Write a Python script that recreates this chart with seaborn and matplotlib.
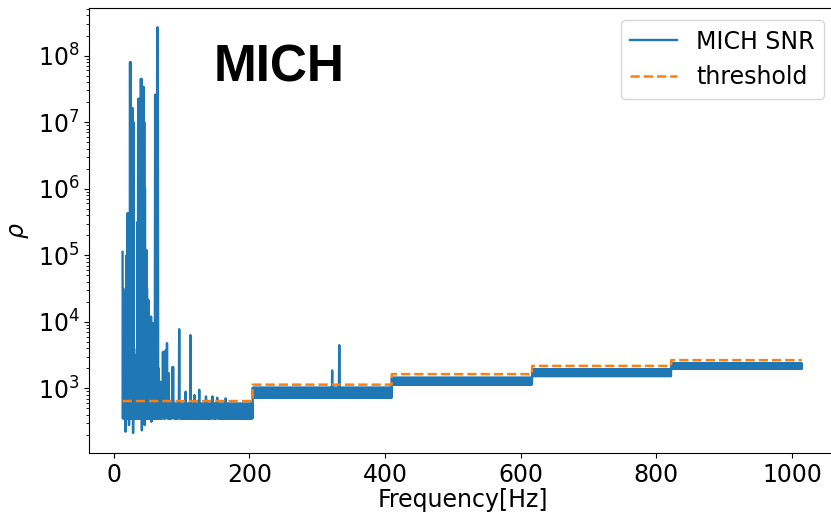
import numpy as np
import pandas as pd
import matplotlib
matplotlib.use("Agg")
import matplotlib.pyplot as plt
import seaborn as sns

# ---------------- data ----------------
# frequency bins (Hz)
freq = np.arange(13.0, 1015.0, 0.5)

# threshold steps / noise band per frequency segment
seg_edges = [13, 205, 410, 617, 822, 1015]
band_low_log = [2.55, 2.86, 3.06, 3.185, 3.30]
band_high_log = [2.77, 3.01, 3.16, 3.29, 3.38]
thr_values = [646, 1140, 1640, 2180, 2660]

# low-frequency upper envelope (log10 rho) at 13..70 Hz
lf_freqs = list(range(13, 71))
lf_peak_log = [5.05, 4.5, 3.8, 3.7, 4.45, 3.9, 5.0, 5.63, 5.6, 5.63,
               5.6, 7.9, 7.9, 7.21, 7.21, 7.21, 7.0, 3.6, 3.45, 3.45,
               3.5, 3.45, 5.5, 7.35, 7.35, 7.35, 7.3, 7.65, 7.65, 7.53,
               7.53, 7.53, 7.0, 6.0, 5.08, 5.08, 4.5, 4.33, 4.33, 3.93,
               3.93, 3.68, 4.08, 3.9, 3.7, 3.98, 3.98, 3.6, 7.41, 7.41,
               7.41, 8.42, 8.42, 3.3, 3.1, 3.0, 3.1, 3.0]

# isolated spikes above the noise band
spike_freqs = [72.5, 76.5, 78.5, 81, 86.5, 87.5, 96.5, 106, 113, 119,
               126, 136, 145.5, 152.5, 165, 322, 332.5]
spike_log = [3.55, 3.57, 3.68, 3.23, 3.32, 3.32, 3.89, 2.95, 3.80, 2.9,
             2.98, 2.88, 2.88, 2.86, 2.85, 3.27, 3.65]

# dips below the noise band
dip_freqs = [17.5, 22.5, 28.5, 41.5, 45.5, 55.5]
dip_log = [2.35, 2.45, 2.33, 2.37, 2.45, 2.5]

# axis ticks
x_ticks = [0, 200, 400, 600, 800, 1000]
y_ticks = [1e3, 1e4, 1e5, 1e6, 1e7, 1e8]

# ---------------- assemble series ----------------
snr = np.empty(len(freq))
thr = np.empty(len(freq))
for i, (a, b) in enumerate(zip(seg_edges[:-1], seg_edges[1:])):
    m = (freq >= a) & (freq < b)
    idx = np.where(m)[0]
    snr[idx[0::2]] = 10 ** band_high_log[i]
    snr[idx[1::2]] = 10 ** band_low_log[i]
    thr[m] = thr_values[i]


def idx_of(f):
    return int(np.argmin(np.abs(freq - f)))


for f, v in zip(lf_freqs, lf_peak_log):
    snr[idx_of(f)] = 10 ** v
for f, v in zip(spike_freqs, spike_log):
    snr[idx_of(f)] = 10 ** v
for f, v in zip(dip_freqs, dip_log):
    snr[idx_of(f)] = 10 ** v

df = pd.DataFrame({"Frequency": freq, "snr": snr, "thr": thr})

# ---------------- plot ----------------
fig = plt.figure(figsize=(8.31, 5.16), dpi=100)
ax = fig.add_axes([0.1075, 0.1221, 0.8986, 0.8618])

sns.lineplot(data=df, x="Frequency", y="snr", ax=ax, estimator=None,
             color="#1f77b4", linewidth=1.7, label="MICH SNR")
sns.lineplot(data=df, x="Frequency", y="thr", ax=ax, estimator=None,
             color="#ff7f0e", linewidth=1.8, linestyle="--", label="threshold")

ax.set_yscale("log")
ax.set_xlim(-36, 1065)
ax.set_ylim(10 ** 2.03, 10 ** 8.71)
ax.set_xticks(x_ticks)
ax.set_yticks(y_ticks)
ax.tick_params(axis="both", labelsize=17)
ax.set_xlabel("Frequency[Hz]", fontsize=17, labelpad=1)
ax.set_ylabel(r"$\rho$", fontsize=17, labelpad=5)

ax.text(0.166, 0.835, "MICH", transform=ax.transAxes, fontsize=37,
        fontweight="bold", family=["Liberation Sans", "DejaVu Sans"],
        va="baseline", ha="left")

ax.legend(loc="upper right", fontsize=17)

fig.savefig("out.png", dpi=100)
